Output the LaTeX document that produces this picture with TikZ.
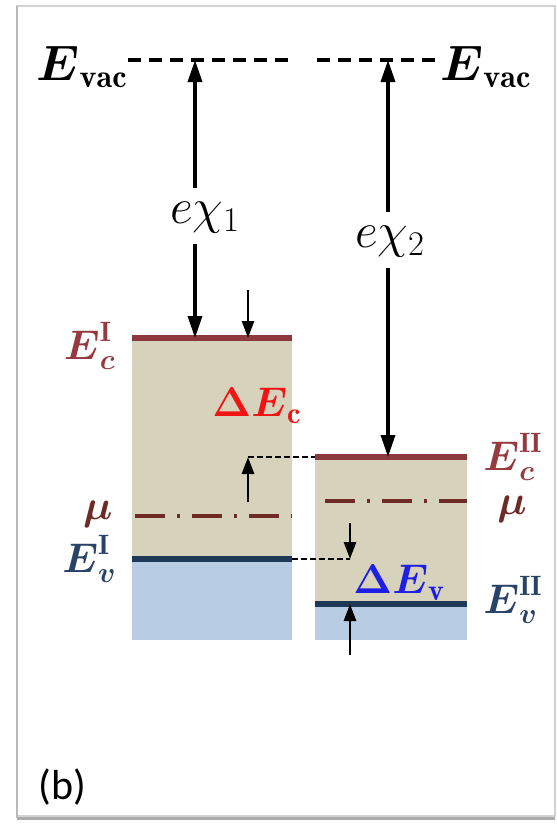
\documentclass[tikz,border=0pt]{standalone}
\usepackage{fontspec}
\setsansfont{Carlito}
\usepackage{amsmath,amssymb}
\usetikzlibrary{arrows.meta,calc,positioning}
\definecolor{bandtan}{HTML}{D7D2BC}
\definecolor{bandblue}{HTML}{B8CCE4}
\definecolor{ecline}{HTML}{8C383C}
\definecolor{eclabel}{HTML}{963A40}
\definecolor{mucolor}{HTML}{6E2A24}
\definecolor{evline}{HTML}{1F3856}
\definecolor{evlabel}{HTML}{284368}
\definecolor{dEcred}{HTML}{F01414}
\definecolor{dEvblue}{HTML}{1E1EE6}

\begin{document}
\begin{tikzpicture}[x=0.5pt,y=-0.5pt,>={Triangle[length=11pt,width=7pt]},
  lvl/.style={line width=2.8pt},
  mulevel/.style={mucolor,line width=1.9pt,dash pattern=on 15pt off 6pt on 1.5pt off 6pt},
  vacline/.style={line width=1.7pt,dash pattern=on 6.5pt off 4pt},
  guide/.style={line width=1pt,dash pattern=on 3pt off 1.5pt},
  chiarrow/.style={->,line width=1.7pt},
  darrow/.style={->,line width=1.4pt,>={Triangle[length=8.5pt,width=6pt]}},
  lbl/.style={inner sep=0pt,font=\fontsize{20}{24}\selectfont},
  big/.style={inner sep=0pt,font=\fontsize{23}{28}\selectfont}]
  \useasboundingbox (0,0) rectangle (557,825);
  % frame
  \draw[gray!35,line width=1pt] (17,6) rectangle (555,816);
  \draw[gray!65,line width=1.5pt] (17,818) -- (555,818);
  \draw[gray!55,line width=1.2pt] (17,6) -- (17,818);

  % semiconductor I
  \fill[bandtan] (132,338) rectangle (292,559);
  \fill[bandblue] (132,559) rectangle (292,640);
  \coordinate (Ec1w) at (132,338);
  \coordinate (Ec1e) at (292,338);
  \coordinate (mu1w) at (135,516);
  \coordinate (mu1e) at (292,516);
  \coordinate (Ev1w) at (132,559);
  \coordinate (Ev1e) at (292,559);
  \draw[lvl,ecline] (Ec1w) -- (Ec1e);
  \draw[lvl,evline] (Ev1w) -- (Ev1e);
  \draw[mulevel] (mu1w) -- (mu1e);

  % semiconductor II
  \fill[bandtan] (315,457) rectangle (467,604);
  \fill[bandblue] (315,604) rectangle (467,640);
  \coordinate (Ec2w) at (315,457);
  \coordinate (Ec2e) at (467,457);
  \coordinate (mu2w) at (325,501);
  \coordinate (mu2e) at (467,501);
  \coordinate (Ev2w) at (315,604);
  \coordinate (Ev2e) at (467,604);
  \draw[lvl,ecline] (Ec2w) -- (Ec2e);
  \draw[lvl,evline] (Ev2w) -- (Ev2e);
  \draw[mulevel] (mu2w) -- (mu2e);

  % level labels
  \node[lbl,eclabel,left=8pt of Ec1w,yshift=-4pt] (Ec1) {$\boldsymbol{E}_{\boldsymbol{c}}^{\mathbf{I}}$};
  \node[lbl,mucolor,left=11pt of mu1w,yshift=1pt] (mu1) {$\boldsymbol{\mu}$};
  \node[lbl,evlabel,left=7.5pt of Ev1w] (Ev1) {$\boldsymbol{E}_{\boldsymbol{v}}^{\mathbf{I}}$};
  \node[lbl,eclabel,right=8pt of Ec2e] (Ec2) {$\boldsymbol{E}_{\boldsymbol{c}}^{\mathbf{II}}$};
  \node[lbl,mucolor,right=15pt of mu2e,yshift=-4pt] (mu2) {$\boldsymbol{\mu}$};
  \node[lbl,evlabel,right=8pt of Ev2e,yshift=2pt] (Ev2) {$\boldsymbol{E}_{\boldsymbol{v}}^{\mathbf{II}}$};

  % vacuum level
  \node[big,anchor=base east] (vacL) at (128,80) {$\boldsymbol{E}_{\mathbf{vac}}$};
  \node[big,anchor=base west] (vacR) at (440,80) {$\boldsymbol{E}_{\mathbf{vac}}$};
  \coordinate (v1) at (195,60);
  \coordinate (v2) at (388,60);
  \coordinate (gapL) at (292,60);
  \coordinate (gapR) at (317,60);
  \draw[vacline] (vacL.east |- v1) -- (gapL);
  \draw[vacline] (gapR) -- (vacR.west |- v2);

  % electron affinities
  \node[big] (chi1) at (205,218) {$e\chi_1$};
  \node[big] (chi2) at (390,242) {$e\chi_2$};
  \draw[chiarrow] ($(chi1.north)+(-10,-14)$) -- (v1);
  \draw[chiarrow] ($(chi1.south)+(-10,10)$) -- (Ec1w -| v1);
  \draw[chiarrow] ($(chi2.north)+(-2,-14)$) -- (v2);
  \draw[chiarrow] ($(chi2.south)+(-2,10)$) -- (Ec2w -| v2);

  % conduction band offset
  \coordinate (dc1) at (248,290);
  \coordinate (dc2) at (248,502);
  \draw[darrow] (dc1) -- (dc1 |- Ec1w);
  \draw[darrow] (dc2) -- (dc2 |- Ec2w);
  \draw[guide] (dc2 |- Ec2w) -- (Ec2w);
  \node[lbl,font=\fontsize{21.5}{26}\selectfont,dEcred,anchor=north east] (dEc) at (302,388) {$\boldsymbol{\Delta E}_{\mathbf{c}}$};

  % valence band offset
  \coordinate (dv1) at (350,523);
  \coordinate (dv2) at (350,655);
  \draw[guide] (Ev1e) -- (dv1 |- Ev1e);
  \draw[darrow] (dv1) -- (dv1 |- Ev1e);
  \draw[darrow] (dv2) -- (dv2 |- Ev2w);
  \node[lbl,font=\fontsize{21.5}{26}\selectfont,dEvblue,anchor=north west] (dEv) at (353,565) {$\boldsymbol{\Delta E}_{\mathbf{v}}$};

  % panel tag
  \node[font=\sffamily\fontsize{21}{25}\selectfont,anchor=south west,inner sep=0pt] (tag) at (38,806) {(b)};
\end{tikzpicture}
\end{document}
